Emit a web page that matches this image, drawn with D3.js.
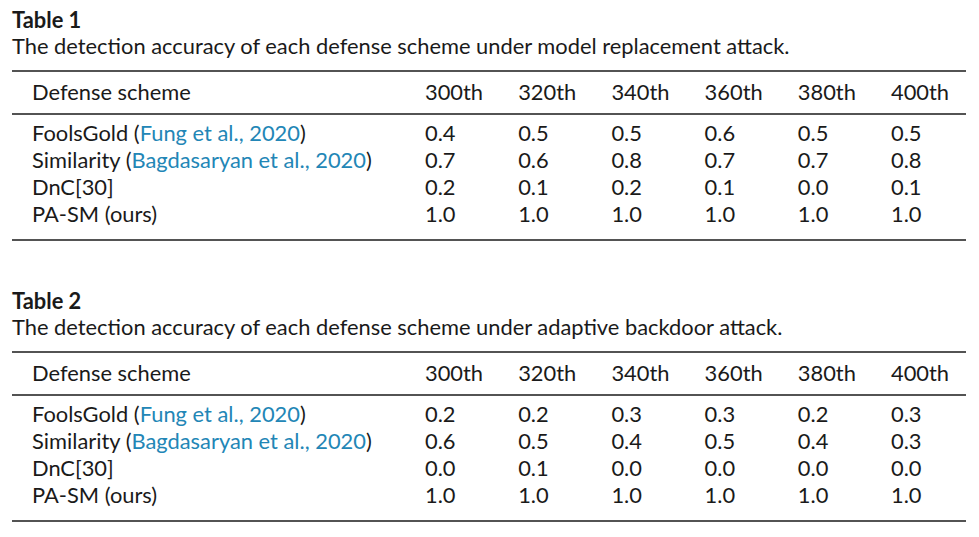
<!DOCTYPE html>
<html><head><meta charset="utf-8">
<script src="https://cdn.jsdelivr.net/npm/d3@7"></script>
<style>body{margin:0;background:#fff}svg{display:block}</style>
</head><body>
<script>
const rounds = ["300th","320th","340th","360th","380th","400th"];
const schemes = ["FoolsGold","Similarity","DnC[30]","PA-SM (ours)"];
const citations = ["Fung et al., 2020","Bagdasaryan et al., 2020",null,null];
const titles = ["Table 1","Table 2"];
const captions = [
  "The detection accuracy of each defense scheme under model replacement attack.",
  "The detection accuracy of each defense scheme under adaptive backdoor attack."
];
const table1 = [
  [0.4,0.5,0.5,0.6,0.5,0.5],
  [0.7,0.6,0.8,0.7,0.7,0.8],
  [0.2,0.1,0.2,0.1,0.0,0.1],
  [1.0,1.0,1.0,1.0,1.0,1.0]
];
const table2 = [
  [0.2,0.2,0.3,0.3,0.2,0.3],
  [0.6,0.5,0.4,0.5,0.4,0.3],
  [0.0,0.1,0.0,0.0,0.0,0.0],
  [1.0,1.0,1.0,1.0,1.0,1.0]
];
const tables = [table1, table2];

const W = 979, H = 537;
const svg = d3.select("body").append("svg").attr("width", W).attr("height", H);
const FONT = "Lato, Open Sans, DejaVu Sans, sans-serif";
const linkColor = "#2286b6";
const ink = "#1a1a1a";

// fit font size so caption width matches reference (~778px)
const probe = svg.append("text").attr("font-family", FONT).attr("font-size", 20).text(captions[0]);
const wProbe = probe.node().getComputedTextLength();
probe.remove();
const fs = 20 * 778 / wProbe;

const x = d3.scalePoint().domain(rounds).range([425, 891]);
const tableTops = [0, 281];

tables.forEach((tbl, ti) => {
  const g = svg.append("g").attr("transform", `translate(0,${tableTops[ti]})`);
  g.append("text").attr("x", 12).attr("y", 28).attr("font-family", FONT)
    .attr("font-weight", "bold").attr("font-size", fs).attr("fill", ink).text(titles[ti]);
  g.append("text").attr("x", 12).attr("y", 54).attr("font-family", FONT)
    .attr("font-size", fs).attr("fill", ink).text(captions[ti]);
  [71, 114, 240].forEach(yy => g.append("line").attr("x1", 12).attr("x2", 966)
    .attr("y1", yy).attr("y2", yy).attr("stroke", ink).attr("stroke-width", 1.6));
  // header
  g.append("text").attr("x", 32).attr("y", 100).attr("font-family", FONT)
    .attr("font-size", fs).attr("fill", ink).text("Defense scheme");
  g.selectAll(".hdr").data(rounds).enter().append("text")
    .attr("x", d => x(d)).attr("y", 100).attr("font-family", FONT)
    .attr("font-size", fs).attr("fill", ink).text(d => d);
  const y = d3.scalePoint().domain(schemes).range([141, 222]);
  schemes.forEach((s, i) => {
    const t = g.append("text").attr("x", 32).attr("y", y(s)).attr("font-family", FONT)
      .attr("font-size", fs).attr("fill", ink);
    t.append("tspan").text(s);
    if (citations[i]) {
      t.append("tspan").text(" (");
      t.append("tspan").attr("fill", linkColor).text(citations[i]);
      t.append("tspan").text(")");
    }
    g.selectAll(null).data(tbl[i]).enter().append("text")
      .attr("x", (d, j) => x(rounds[j])).attr("y", y(s)).attr("font-family", FONT)
      .attr("font-size", fs).attr("fill", ink).text(d => d3.format(".1f")(d));
  });
});
</script>
</body></html>
